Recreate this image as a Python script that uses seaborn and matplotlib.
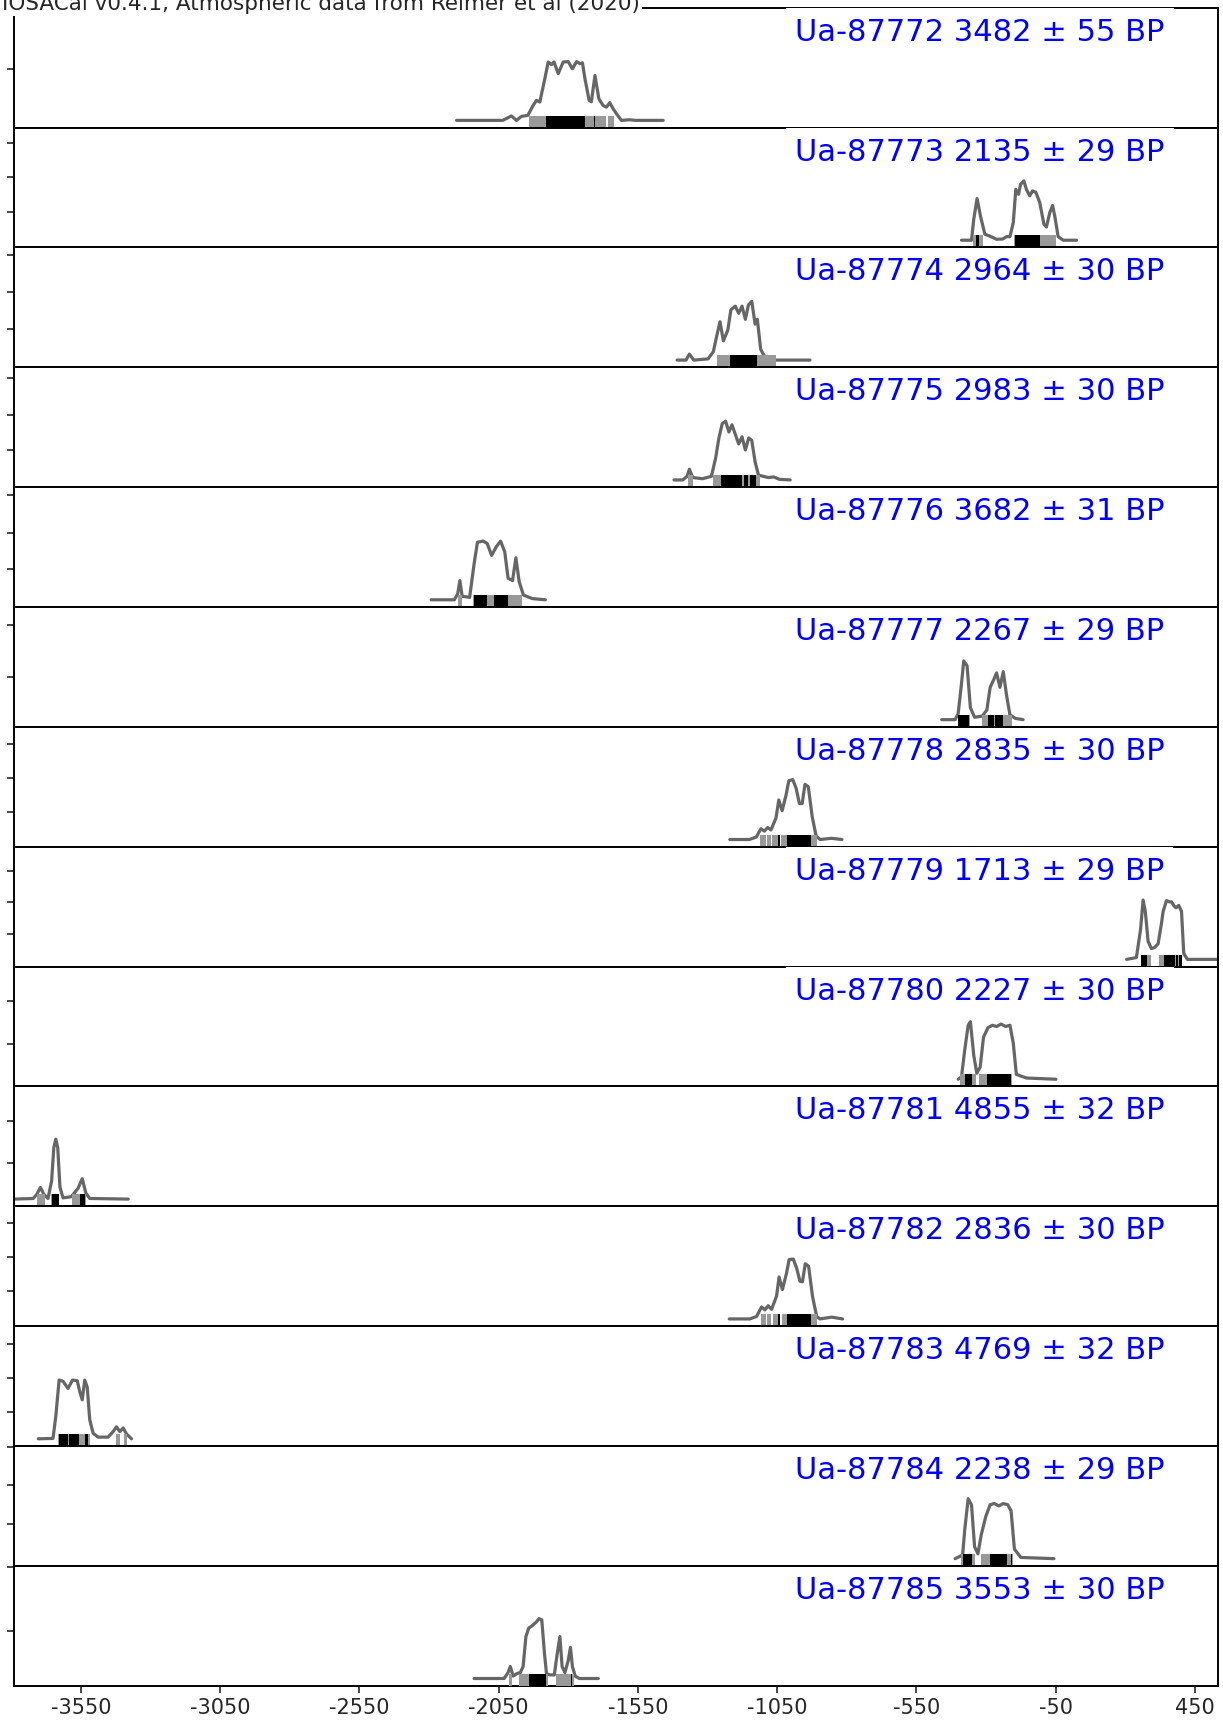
import matplotlib
matplotlib.use("Agg")
import matplotlib.pyplot as plt
import numpy as np
import pandas as pd
import seaborn as sns

TITLE = "IOSACal v0.4.1, Atmospheric data from Reimer et al (2020)"

LAB_CODES = ["Ua-87772", "Ua-87773", "Ua-87774", "Ua-87775", "Ua-87776", "Ua-87777", "Ua-87778",
             "Ua-87779", "Ua-87780", "Ua-87781", "Ua-87782", "Ua-87783", "Ua-87784", "Ua-87785"]
BP_AGES = [3482, 2135, 2964, 2983, 3682, 2267, 2835, 1713, 2227, 4855, 2836, 4769, 2238, 3553]
BP_ERRORS = [55, 29, 30, 30, 31, 29, 30, 29, 30, 32, 30, 32, 29, 30]

# calibrated curves: (calendar year, relative probability)
CURVE_87772 = [(-2201, 0), (-2035, 0), (-2004, 0.037), (-1986, 0.0), (-1968, 0.033), (-1945, 0.042),
               (-1926, 0.125), (-1914, 0.167), (-1902, 0.153), (-1884, 0.348), (-1872, 0.487),
               (-1860, 0.465), (-1851, 0.487), (-1836, 0.39), (-1818, 0.487), (-1800, 0.49),
               (-1785, 0.43), (-1770, 0.49), (-1758, 0.473), (-1749, 0.48), (-1740, 0.348),
               (-1725, 0.167), (-1717, 0.155), (-1704, 0.375), (-1690, 0.18), (-1675, 0.125),
               (-1663, 0.11), (-1651, 0.148), (-1639, 0.098), (-1627, 0.056), (-1609, 0.0),
               (-1580, 0.005), (-1560, 0.0), (-1459, 0)]
HPD95_87772 = [(-1940, -1708), (-1706, -1666), (-1659, -1635)]
HPD68_87772 = [(-1880, -1740), (-1709, -1705)]

CURVE_87773 = [(-388, 0), (-352, 0.0), (-344, 0.175), (-332, 0.348), (-320, 0.203), (-304, 0.05),
               (-286, 0.034), (-262, 0.008), (-240, 0.01), (-226, 0.03), (-214, 0.03), (-202, 0.147),
               (-193, 0.425), (-183, 0.383), (-176, 0.467), (-164, 0.495), (-155, 0.425), (-143, 0.37),
               (-133, 0.412), (-121, 0.40), (-107, 0.314), (-92, 0.133), (-83, 0.11), (-71, 0.23),
               (-61, 0.29), (-53, 0.2), (-41, 0.03), (-23, 0.0), (25, 0)]
HPD95_87773 = [(-346, -312), (-198, -48)]
HPD68_87773 = [(-336, -326), (-196, -106)]

CURVE_87774 = [(-1409, 0), (-1377, 0), (-1365, 0.05), (-1349, 0), (-1298, 0.01), (-1279, 0.07),
               (-1267, 0.2), (-1255, 0.32), (-1243, 0.16), (-1227, 0.25), (-1216, 0.42), (-1200, 0.45),
               (-1188, 0.39), (-1176, 0.45), (-1164, 0.34), (-1153, 0.46), (-1141, 0.49), (-1129, 0.30),
               (-1121, 0.34), (-1109, 0.09), (-1093, 0.02), (-1062, 0), (-932, 0)]
HPD95_87774 = [(-1267, -1054)]
HPD68_87774 = [(-1219, -1121)]

CURVE_87775 = [(-1420, 0), (-1389, 0), (-1373, 0.03), (-1365, 0.09), (-1353, 0.02), (-1318, 0.01),
               (-1286, 0.03), (-1271, 0.18), (-1259, 0.35), (-1247, 0.47), (-1235, 0.49), (-1223, 0.40),
               (-1212, 0.46), (-1200, 0.38), (-1188, 0.30), (-1176, 0.36), (-1164, 0.25), (-1152, 0.35),
               (-1141, 0.33), (-1129, 0.15), (-1117, 0.04), (-1082, 0.02), (-1062, 0.025),
               (-1042, 0.005), (-1003, 0)]
HPD95_87775 = [(-1370, -1352), (-1282, -1110)]
HPD68_87775 = [(-1251, -1176), (-1168, -1156), (-1148, -1125)]

CURVE_87776 = [(-2292, 0), (-2209, 0), (-2197, 0.05), (-2189, 0.16), (-2181, 0.03), (-2154, 0.02),
               (-2138, 0.30), (-2126, 0.48), (-2106, 0.49), (-2091, 0.47), (-2075, 0.37), (-2059, 0.44),
               (-2043, 0.49), (-2028, 0.40), (-2016, 0.18), (-2000, 0.16), (-1988, 0.35), (-1976, 0.15),
               (-1961, 0.04), (-1929, 0.01), (-1882, 0)]
HPD95_87776 = [(-2197, -2181), (-2142, -1965)]
HPD68_87776 = [(-2138, -2090), (-2068, -2018)]

CURVE_87777 = [(-459, 0), (-411, 0), (-400, 0.05), (-388, 0.3), (-380, 0.49), (-368, 0.45), (-356, 0.1),
               (-341, 0.02), (-313, 0.03), (-297, 0.08), (-285, 0.27), (-273, 0.33), (-262, 0.39),
               (-250, 0.27), (-238, 0.40), (-226, 0.2), (-214, 0.04), (-194, 0.01), (-167, 0)]
HPD95_87777 = [(-401, -357), (-316, -206)]
HPD68_87777 = [(-399, -360), (-293, -272), (-268, -240)]

CURVE_87778 = [(-1220, 0), (-1150, 0), (-1125, 0.02), (-1108, 0.09), (-1096, 0.07), (-1084, 0.1),
               (-1072, 0.08), (-1054, 0.18), (-1044, 0.33), (-1032, 0.24), (-1018, 0.37), (-1008, 0.49),
               (-994, 0.5), (-982, 0.43), (-970, 0.3), (-960, 0.3), (-950, 0.46), (-938, 0.44),
               (-924, 0.19), (-910, 0.03), (-896, 0), (-855, 0.01), (-817, 0)]
HPD95_87778 = [(-1110, -1090), (-1086, -1072), (-1068, -1046), (-1036, -906)]
HPD68_87778 = [(-1046, -1040), (-1016, -930)]

CURVE_87779 = [(205, 0), (240, 0.015), (255, 0.25), (264, 0.495), (272, 0.4), (282, 0.15), (294, 0.09),
               (306, 0.1), (318, 0.13), (330, 0.3), (336, 0.4), (348, 0.49), (358, 0.48), (366, 0.48),
               (374, 0.45), (382, 0.43), (392, 0.45), (402, 0.4), (410, 0.05), (423, 0), (540, 0)]
HPD95_87779 = [(258, 294), (320, 404)]
HPD68_87779 = [(258, 277), (338, 380), (383, 390), (393, 402)]

CURVE_87780 = [(-400, 0), (-388, 0.02), (-376, 0.25), (-364, 0.45), (-356, 0.48), (-344, 0.2),
               (-333, 0.05), (-321, 0.1), (-309, 0.35), (-293, 0.43), (-277, 0.45), (-262, 0.44),
               (-246, 0.46), (-230, 0.44), (-214, 0.45), (-202, 0.3), (-191, 0.04), (-155, 0.01), (-49, 0)]
HPD95_87780 = [(-392, -337), (-325, -205)]
HPD68_87780 = [(-377, -352), (-297, -212)]

CURVE_87781 = [(-3787, 0), (-3721, 0.005), (-3708, 0.04), (-3695, 0.097), (-3683, 0.04), (-3668, 0.005),
               (-3655, 0.15), (-3647, 0.43), (-3640, 0.5), (-3633, 0.43), (-3625, 0.1), (-3614, 0.01),
               (-3584, 0.02), (-3560, 0.09), (-3545, 0.17), (-3532, 0.05), (-3518, 0.005), (-3380, 0)]
HPD95_87781 = [(-3707, -3679), (-3656, -3627), (-3580, -3532)]
HPD68_87781 = [(-3697, -3695), (-3655, -3628), (-3554, -3536)]

CURVE_87782 = [(-1222, 0), (-1148, 0), (-1124, 0.02), (-1106, 0.1), (-1094, 0.075), (-1082, 0.11),
               (-1070, 0.08), (-1052, 0.19), (-1043, 0.35), (-1031, 0.245), (-1016, 0.384),
               (-1007, 0.495), (-992, 0.5), (-980, 0.425), (-968, 0.314), (-959, 0.31), (-949, 0.46),
               (-937, 0.44), (-923, 0.19), (-908, 0.02), (-896, 0), (-854, 0.015), (-815, 0)]
HPD95_87782 = [(-1109, -1091), (-1085, -1073), (-1066, -1046), (-1034, -908)]
HPD68_87782 = [(-1046, -1040), (-1016, -930)]

CURVE_87783 = [(-3703, 0), (-3650, 0.003), (-3640, 0.186), (-3628, 0.49), (-3614, 0.48), (-3596, 0.42),
               (-3580, 0.49), (-3563, 0.485), (-3554, 0.395), (-3545, 0.325), (-3536, 0.49),
               (-3527, 0.43), (-3518, 0.158), (-3506, 0.047), (-3488, 0.014), (-3452, 0.014),
               (-3434, 0.06), (-3422, 0.1), (-3410, 0.06), (-3398, 0.09), (-3386, 0.04), (-3368, 0)]
HPD95_87783 = [(-3632, -3518), (-3424, -3410), (-3396, -3384)]
HPD68_87783 = [(-3630, -3597), (-3594, -3557), (-3536, -3524)]

CURVE_87784 = [(-411, 0), (-384, 0.03), (-376, 0.25), (-364, 0.5), (-352, 0.45), (-341, 0.1),
               (-329, 0.04), (-317, 0.2), (-301, 0.35), (-285, 0.45), (-270, 0.46), (-254, 0.44),
               (-238, 0.46), (-222, 0.45), (-210, 0.4), (-198, 0.08), (-175, 0.01), (-56, 0)]
HPD95_87784 = [(-390, -340), (-318, -204)]
HPD68_87784 = [(-383, -351), (-286, -226), (-211, -207)]

CURVE_87785 = [(-2138, 0), (-2030, 0), (-2016, 0.05), (-2008, 0.1), (-1998, 0.02), (-1985, 0.04),
               (-1972, 0.05), (-1962, 0.1), (-1952, 0.35), (-1942, 0.42), (-1930, 0.44), (-1915, 0.47),
               (-1905, 0.5), (-1895, 0.49), (-1885, 0.2), (-1878, 0.04), (-1865, 0.03), (-1850, 0.03),
               (-1840, 0.2), (-1830, 0.35), (-1822, 0.1), (-1812, 0.05), (-1800, 0.15), (-1792, 0.26),
               (-1785, 0.1), (-1775, 0.02), (-1760, 0), (-1692, 0)]
HPD95_87785 = [(-2012, -2002), (-1978, -1873), (-1845, -1780)]
HPD68_87785 = [(-1941, -1880), (-1790, -1785)]

CURVES = [CURVE_87772, CURVE_87773, CURVE_87774, CURVE_87775, CURVE_87776, CURVE_87777, CURVE_87778,
          CURVE_87779, CURVE_87780, CURVE_87781, CURVE_87782, CURVE_87783, CURVE_87784, CURVE_87785]
HPD95 = [HPD95_87772, HPD95_87773, HPD95_87774, HPD95_87775, HPD95_87776, HPD95_87777, HPD95_87778,
         HPD95_87779, HPD95_87780, HPD95_87781, HPD95_87782, HPD95_87783, HPD95_87784, HPD95_87785]
HPD68 = [HPD68_87772, HPD68_87773, HPD68_87774, HPD68_87775, HPD68_87776, HPD68_87777, HPD68_87778,
         HPD68_87779, HPD68_87780, HPD68_87781, HPD68_87782, HPD68_87783, HPD68_87784, HPD68_87785]

# y tick marks (no labels), as fraction of each panel height
YTICKS = [[0.49], [0.295, 0.587, 0.871], [0.316, 0.627, 0.94], [0.307, 0.60, 0.913],
          [0.319, 0.621, 0.932], [0.412, 0.852], [0.286, 0.57, 0.853], [0.269, 0.535, 0.80],
          [0.354, 0.71], [0.364, 0.711], [0.292, 0.576, 0.86], [0.284, 0.567, 0.848],
          [0.35, 0.671, 0.988], [0.459, 0.987]]

BASE = 0.06      # curve baseline above panel bottom
BAR_TOP = 0.10   # height of the HPD bars

sns.set_style("ticks")
plt.rcParams["font.family"] = ["DejaVu Sans"]
plt.rcParams["axes.unicode_minus"] = False

W, H = 1223, 1722
n = len(LAB_CODES)
fig, axes = plt.subplots(n, 1, sharex=True, figsize=(W / 100, H / 100), dpi=100)
fig.subplots_adjust(left=14 / W, right=1218 / W, top=1 - 7.7 / H, bottom=1 - 1685.7 / H, hspace=0)

for i, ax in enumerate(axes):
    df = pd.DataFrame(CURVES[i], columns=["year", "prob"])
    df["y"] = df["prob"] + BASE
    for a, b in HPD95[i]:
        ax.axvspan(a, b, ymin=0, ymax=BAR_TOP, facecolor="0.6", lw=0, zorder=3)
    for a, b in HPD68[i]:
        ax.axvspan(a, b, ymin=0, ymax=BAR_TOP, facecolor="black", lw=0, zorder=3)
    sns.lineplot(data=df, x="year", y="y", ax=ax, color="0.4", lw=2.3,
                 estimator=None, sort=False, zorder=2)
    ax.set_ylim(0, 1)
    ax.set_yticks(YTICKS[i])
    ax.set_yticklabels([])
    ax.set_xlabel("")
    ax.set_ylabel("")
    for sp in ax.spines.values():
        sp.set_linewidth(1.4)
        sp.set_color("black")
    ax.tick_params(axis="y", length=5, width=1.2)
    if i < n - 1:
        ax.tick_params(axis="x", bottom=False)
    ax.text(0.6487, 0.725, f"{LAB_CODES[i]} {BP_AGES[i]} ± {BP_ERRORS[i]} BP",
            transform=ax.transAxes, color="blue", fontsize=22, ha="left", va="baseline",
            zorder=5, bbox=dict(facecolor="white", edgecolor="none", boxstyle="square,pad=0.3"))

axes[-1].set_xlim(-3790, 533)
axes[-1].set_xticks(np.arange(-3550, 451, 500))
axes[-1].tick_params(axis="x", length=5, width=1.2, labelsize=15, pad=4)

# title sits half outside the canvas, as in the original export
fig.text(2 / W, 1 - 10 / H, TITLE, fontsize=15.5, ha="left", va="baseline",
         bbox=dict(facecolor="white", edgecolor="none", boxstyle="square,pad=0.08"))

fig.savefig("out.png", dpi=100)
